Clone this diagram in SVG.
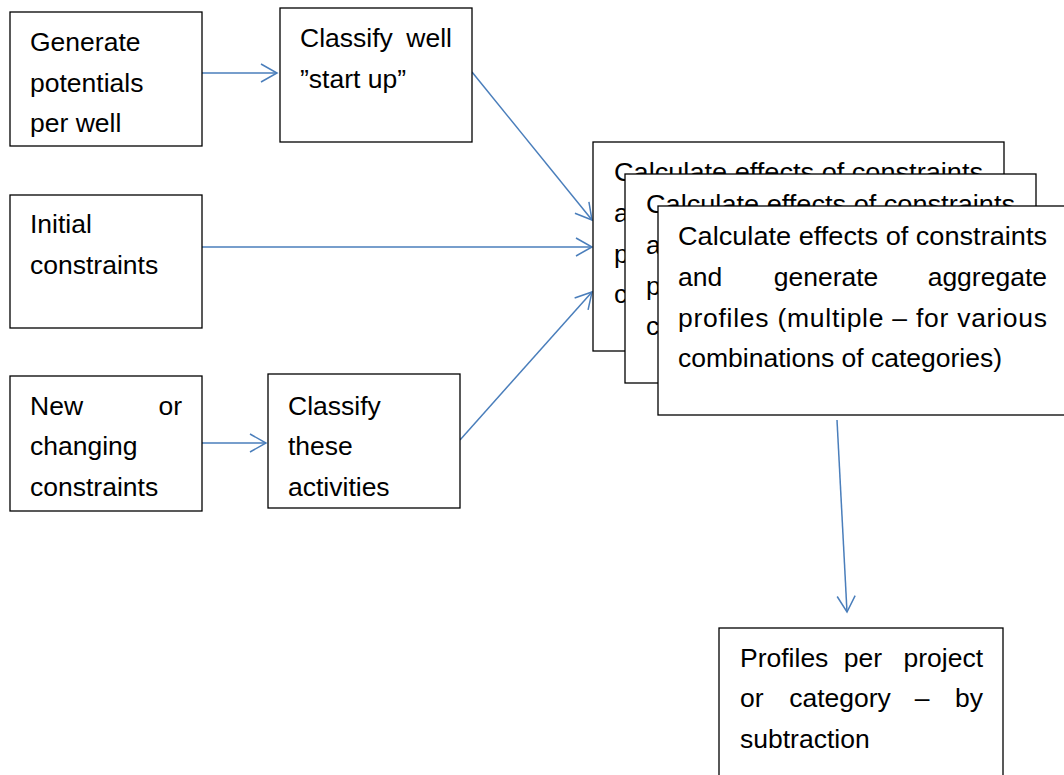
<svg xmlns="http://www.w3.org/2000/svg" width="1064" height="775" viewBox="0 0 1064 775">
<style>
.box{fill:#fff;stroke:#000;stroke-width:1.3}
.t{font-family:"Liberation Sans",Arial,sans-serif;font-size:26.5px;fill:#000}
.e{text-anchor:end}
.m{text-anchor:middle}
.c{fill:none;stroke:#4a7ebb;stroke-width:1.5}
</style>
<defs>
<marker id="ah" markerUnits="userSpaceOnUse" markerWidth="24" markerHeight="24" viewBox="-18 -12 20 24" refX="0" refY="0" orient="auto">
<path d="M-16,-9 L0,0 L-16,9" fill="none" stroke="#4a7ebb" stroke-width="1.5"/>
</marker>
</defs>
<rect width="1064" height="775" fill="#fff"/>
<g id="connectors">
<line class="c" x1="202" y1="73" x2="277" y2="73" marker-end="url(#ah)"/>
<line class="c" x1="472" y1="72" x2="592" y2="220" marker-end="url(#ah)"/>
<line class="c" x1="202" y1="247" x2="592" y2="247" marker-end="url(#ah)"/>
<line class="c" x1="202" y1="443" x2="266" y2="443" marker-end="url(#ah)"/>
<line class="c" x1="460" y1="440" x2="592" y2="292" marker-end="url(#ah)"/>
<line class="c" x1="837" y1="420" x2="847" y2="612" marker-end="url(#ah)"/>
</g>
<g id="n1">
<rect class="box" x="10" y="12" width="192" height="134"/>
<text class="t" x="30" y="51">Generate</text>
<text class="t" x="30" y="92">potentials</text>
<text class="t" x="30" y="132">per well</text>
</g>
<g id="n2">
<rect class="box" x="280" y="8" width="192" height="134"/>
<text class="t" x="300" y="47">Classify</text>
<text class="t e" x="452" y="47">well</text>
<text class="t" x="300" y="88">”start up”</text>
</g>
<g id="n3">
<rect class="box" x="10" y="195" width="192" height="133"/>
<text class="t" x="30" y="233">Initial</text>
<text class="t" x="30" y="274">constraints</text>
</g>
<g id="n4">
<rect class="box" x="10" y="376" width="192" height="135"/>
<text class="t" x="30" y="415">New</text>
<text class="t e" x="182" y="415">or</text>
<text class="t" x="30" y="455">changing</text>
<text class="t" x="30" y="496">constraints</text>
</g>
<g id="n5">
<rect class="box" x="268" y="374" width="192" height="134"/>
<text class="t" x="288" y="415">Classify</text>
<text class="t" x="288" y="455">these</text>
<text class="t" x="288" y="496">activities</text>
</g>
<g id="n6a">
<rect class="box" x="593" y="142" width="411" height="209"/>
<text class="t" x="614" y="181" textLength="369" lengthAdjust="spacingAndGlyphs">Calculate effects of constraints</text>
<text class="t" x="614" y="222">a</text>
<text class="t" x="614" y="263">p</text>
<text class="t" x="614" y="303">c</text>
</g>
<g id="n6b">
<rect class="box" x="625" y="174" width="411" height="209"/>
<text class="t" x="646" y="213" textLength="369" lengthAdjust="spacingAndGlyphs">Calculate effects of constraints</text>
<text class="t" x="646" y="254">a</text>
<text class="t" x="646" y="295">p</text>
<text class="t" x="646" y="335">c</text>
</g>
<g id="n6c">
<rect class="box" x="658" y="206" width="411" height="209"/>
<text class="t" x="678" y="245" textLength="369" lengthAdjust="spacingAndGlyphs">Calculate effects of constraints</text>
<text class="t" x="678" y="286">and</text>
<text class="t m" x="826" y="286">generate</text>
<text class="t e" x="1047" y="286">aggregate</text>
<text class="t" x="678" y="327" textLength="369" lengthAdjust="spacing">profiles (multiple – for various</text>
<text class="t" x="678" y="367">combinations of categories)</text>
</g>
<g id="n7">
<rect class="box" x="719" y="628" width="284" height="209"/>
<text class="t" x="740" y="667">Profiles</text>
<text class="t m" x="863" y="667">per</text>
<text class="t e" x="983" y="667">project</text>
<text class="t" x="740" y="707">or</text>
<text class="t m" x="840" y="707">category</text>
<text class="t m" x="922" y="707">–</text>
<text class="t e" x="983" y="707">by</text>
<text class="t" x="740" y="748">subtraction</text>
</g>
</svg>
